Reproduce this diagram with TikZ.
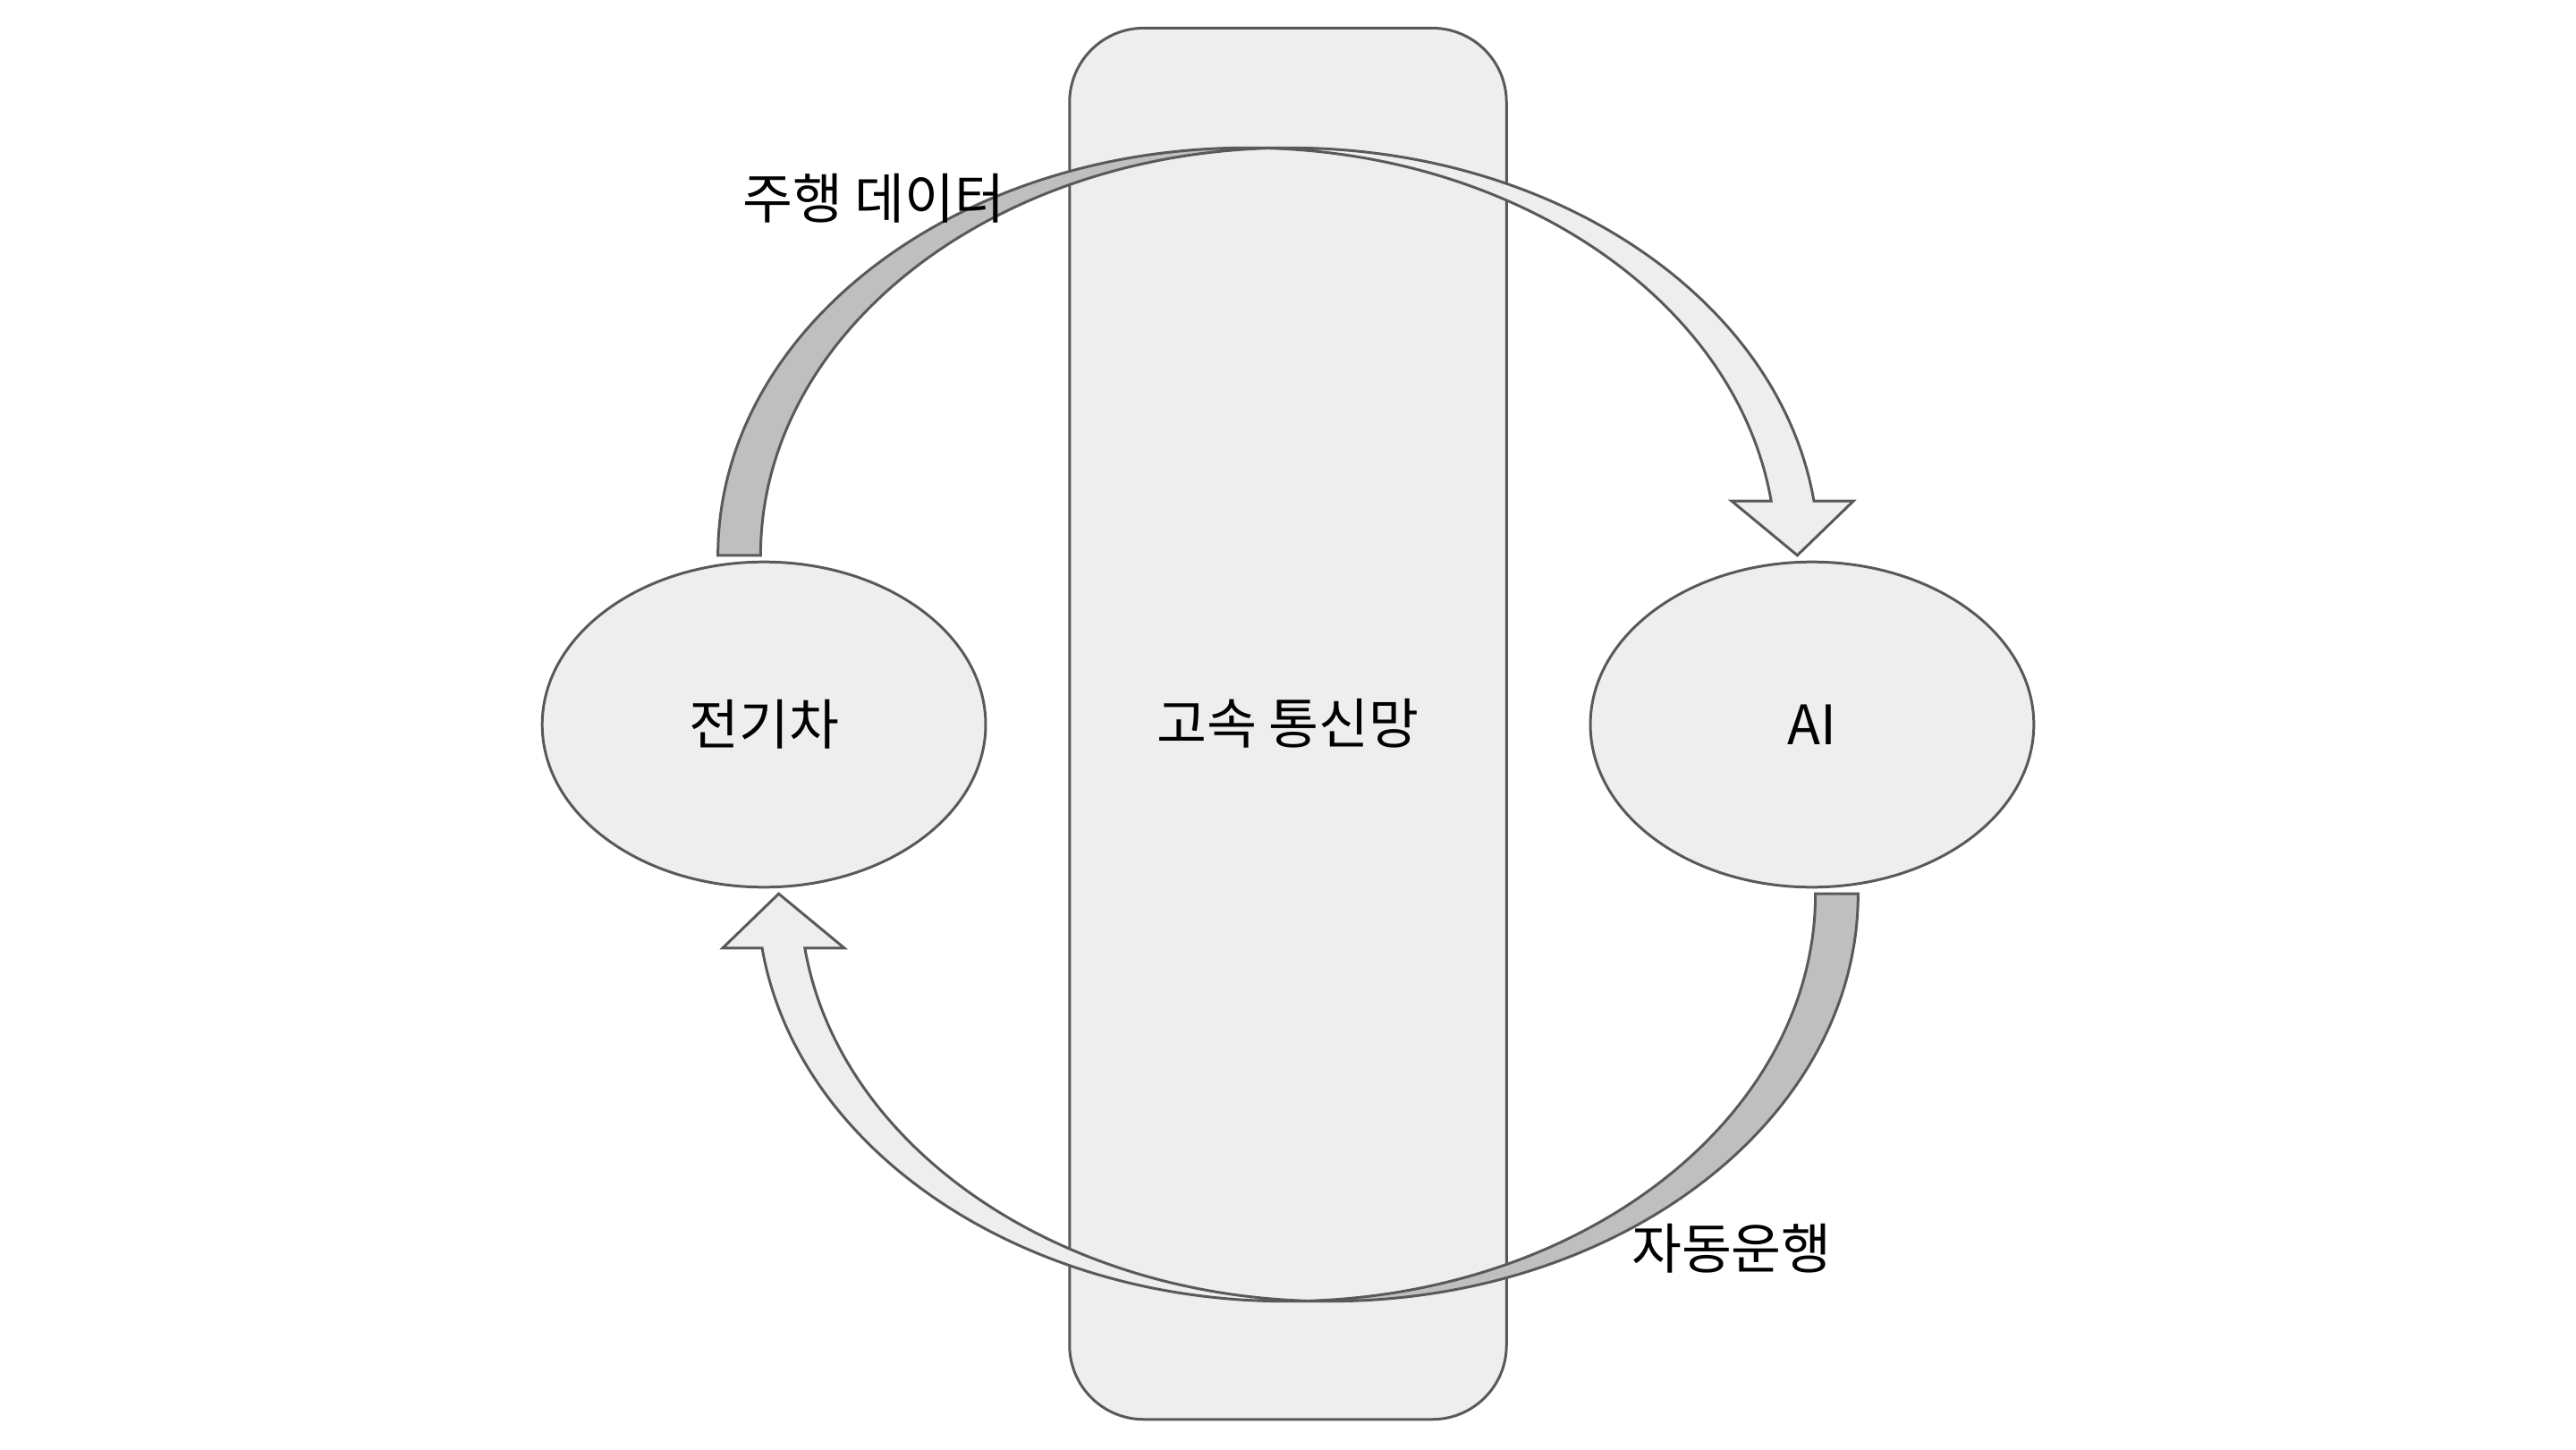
\documentclass[tikz,border=0pt]{standalone}
\usepackage{fontspec}
\setmainfont{Noto Sans CJK KR}
\usetikzlibrary{shapes.geometric}
\definecolor{lineclr}{HTML}{595959}
\definecolor{paleclr}{HTML}{EEEEEE}
\definecolor{shadeclr}{HTML}{BFBFBF}

\tikzset{
  netbox/.style={draw=lineclr, line width=0.85pt, fill=paleclr, rounded corners=0.83cm,
                 minimum width=4.886cm, minimum height=15.557cm, inner sep=0pt,
                 font=\fontsize{17.3}{20}\selectfont},
  blob/.style={ellipse, draw=lineclr, line width=0.85pt, fill=paleclr,
               minimum width=4.959cm, minimum height=3.637cm, inner sep=0pt,
               font=\fontsize{17.3}{20}\selectfont},
  tag/.style={inner sep=0pt, font=\fontsize{17.3}{20}\selectfont}
}

% one bent block arrow, drawn for the upper half
\newcommand{\bentarrow}{%
  \fill[paleclr] (1094,544) -- (1054.1,577) -- (1078.1,577)
    arc[start angle=7.647, end angle=90, x radius=322, y radius=248]
    -- (785,792)
    arc[start angle=90, end angle=7.647, x radius=322, y radius=248]
    -- (1128.1,577) -- cycle;
  \fill[shadeclr] (772,791.8)
    arc[start angle=92.31, end angle=180, x radius=322, y radius=248]
    -- (437,544)
    arc[start angle=180, end angle=87.69, x radius=322, y radius=248] -- cycle;
  \draw[lineclr, line width=0.85pt] (772,791.8)
    arc[start angle=92.31, end angle=180, x radius=322, y radius=248]
    -- (437,544)
    arc[start angle=180, end angle=90, x radius=322, y radius=248]
    -- (785,792)
    arc[start angle=90, end angle=7.647, x radius=322, y radius=248]
    -- (1128.1,577) -- (1094,544) -- (1054.1,577) -- (1078.1,577)
    arc[start angle=7.647, end angle=90, x radius=322, y radius=248];
}

\begin{document}
\begin{tikzpicture}[x=0.018367cm, y=0.018367cm]
  \useasboundingbox (0,0) rectangle (1568,882);
  \node[netbox] (net) at (784,441.5) {고속 통신망};
  \bentarrow
  \begin{scope}[rotate around={180:(784,441)}]
    \bentarrow
  \end{scope}
  \node[blob] (ev) at (465,441) {전기차};
  \node[blob] (ai) at (1103,441) {AI};
  \node[tag] (data) at (532,761) {주행 데이터};
  \node[tag] (drive) at (1054,122) {자동운행};
\end{tikzpicture}
\end{document}
